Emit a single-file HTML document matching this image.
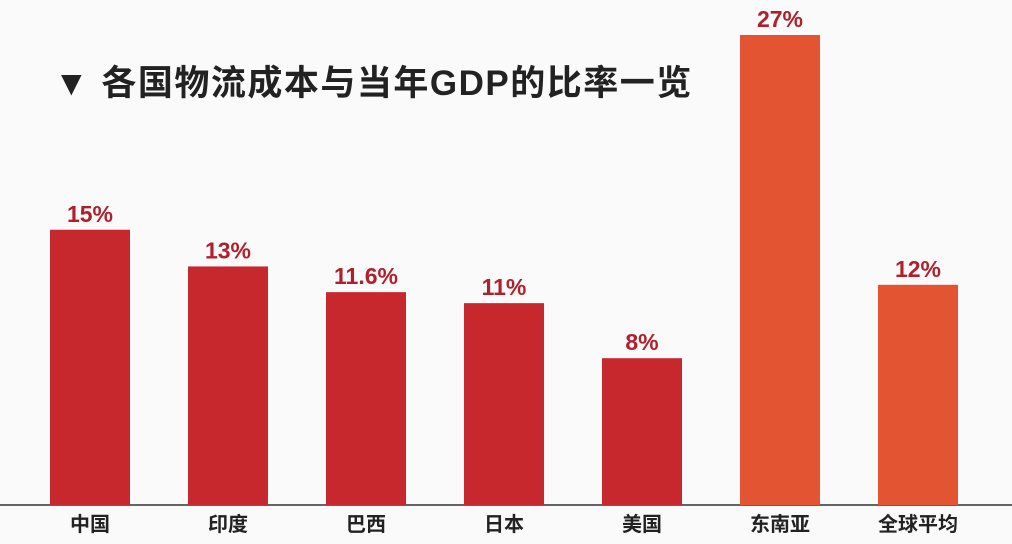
<!DOCTYPE html>
<html><head><meta charset="utf-8"><style>
body{margin:0;background:#fafafa;}
svg{display:block;font-family:"Liberation Sans","Noto Sans CJK SC",sans-serif;}
</style></head><body>
<svg id="c" width="1012" height="544">
<rect width="1012" height="544" fill="#fafafa"/>
<text x="54" y="95" font-size="35" font-weight="bold" letter-spacing="1.5" fill="#222">▼ 各国物流成本与当年GDP的比率一览</text>
<line x1="0" y1="505" x2="1012" y2="505" stroke="#333" stroke-width="1.5"/>
</svg>
<script>
const categories=["中国","印度","巴西","日本","美国","东南亚","全球平均"];
const values=[15,13,11.6,11,8,27,12];
const valueLabels=["15%","13%","11.6%","11%","8%","27%","12%"];
const svg=document.getElementById('c');
const NS='http://www.w3.org/2000/svg';
const base=505, pxPer=18.35, maxH=470;
function x(i){return 50+i*138;}
function h(v){return Math.min(v*pxPer,maxH);}
categories.forEach((c,i)=>{
  const r=document.createElementNS(NS,'rect');
  
  
  r.setAttribute('x',x(i));r.setAttribute('width',80);
  r.setAttribute('y',base-h(values[i]));r.setAttribute('height',h(values[i]));
  r.setAttribute('fill',i>=5?'#e35433':'#c7282e');
  svg.appendChild(r);
  const t=document.createElementNS(NS,'text');
  
  
  t.setAttribute('x',x(i)+40);t.setAttribute('y',base-h(values[i])-8);
  t.setAttribute('text-anchor','middle');t.setAttribute('font-size','23');
  t.setAttribute('font-weight','bold');t.setAttribute('fill','#b0202c');
  t.textContent=valueLabels[i];svg.appendChild(t);
  const l=document.createElementNS(NS,'text');
  
  
  l.setAttribute('x',x(i)+40);l.setAttribute('y',531);
  l.setAttribute('text-anchor','middle');l.setAttribute('font-size','20');
  l.setAttribute('font-weight','bold');l.setAttribute('fill','#222');
  l.textContent=c;svg.appendChild(l);
});
</script>
</body></html>
